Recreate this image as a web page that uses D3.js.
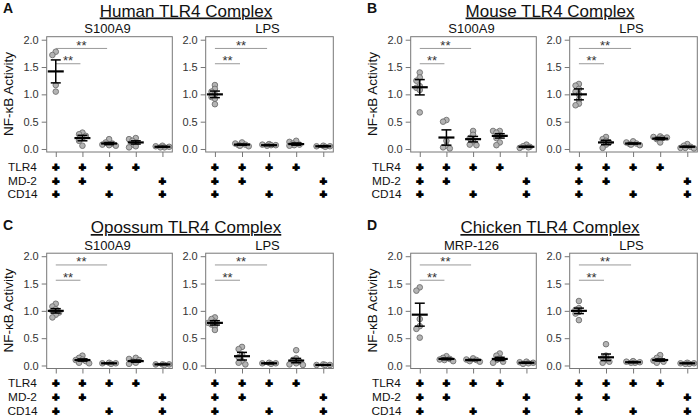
<!DOCTYPE html>
<html>
<head>
<meta charset="utf-8">
<script src="https://cdn.jsdelivr.net/npm/d3@7"></script>
<style>
html,body{margin:0;padding:0;background:#fff;}
svg{display:block;font-family:"Liberation Sans",Arial,sans-serif;}
</style>
</head>
<body>
<script>
// ---------- data ----------
const panelLetters = ["A", "B", "C", "D"];
const panelTitles = ["Human TLR4 Complex", "Mouse TLR4 Complex", "Opossum TLR4 Complex", "Chicken TLR4 Complex"];
const leftLigands = ["S100A9", "S100A9", "S100A9", "MRP-126"];
const rightLigand = "LPS";
const yLabel = "NF-\u03BAB Activity";
const categories = [1, 2, 3, 4, 5];
const rowLabels = ["TLR4", "MD-2", "CD14"];
const plusMatrix = [
  [1, 1, 1, 1, 0],
  [1, 1, 0, 0, 1],
  [1, 0, 1, 0, 1]
];
const yTicks = [0, 0.5, 1.0, 1.5, 2.0];
const sigPairs = [[1, 2], [1, 3]];
const sigHeights = [1.56, 1.84];
const sigText = "**";

// points per group (5 groups)
const humanS100A9 = [[1.78, 1.72, 1.17, 1.05], [0.30, 0.27, 0.24, 0.20, 0.15, 0.06], [0.18, 0.12, 0.10, 0.08, 0.07, 0.06], [0.20, 0.18, 0.15, 0.12, 0.08, 0.05, 0.03], [0.06, 0.05, 0.04, 0.03, 0.03]];
const humanLPS = [[1.17, 1.10, 1.05, 1.00, 0.95, 0.92, 0.82], [0.12, 0.10, 0.08, 0.07, 0.06, 0.05], [0.09, 0.08, 0.07, 0.07, 0.06], [0.15, 0.13, 0.10, 0.08, 0.07, 0.06], [0.06, 0.05, 0.05, 0.04]];
const mouseS100A9 = [[1.40, 1.31, 1.25, 1.15, 1.12, 1.08, 0.67], [0.53, 0.50, 0.15, 0.06, 0.03, 0.01], [0.33, 0.26, 0.20, 0.14, 0.08, 0.07], [0.33, 0.33, 0.30, 0.25, 0.20, 0.12, 0.07], [0.08, 0.05, 0.04, 0.03, 0.02]];
const mouseLPS = [[1.19, 1.16, 1.10, 1.05, 1.00, 0.90, 0.83, 0.80], [0.22, 0.18, 0.15, 0.12, 0.08, 0.02], [0.14, 0.12, 0.10, 0.09, 0.08, 0.07], [0.23, 0.22, 0.21, 0.20, 0.18, 0.12], [0.09, 0.06, 0.04, 0.02, 0.01, 0.02]];
const opossumS100A9 = [[1.13, 1.08, 1.03, 1.00, 0.97, 0.93, 0.88], [0.18, 0.14, 0.11, 0.10, 0.08, 0.05, 0.04], [0.05, 0.04, 0.04, 0.03], [0.14, 0.12, 0.10, 0.08, 0.05, 0.03], [0.02, 0.02, 0.01, 0.02]];
const opossumLPS = [[0.88, 0.85, 0.80, 0.78, 0.75, 0.72, 0.65], [0.34, 0.30, 0.20, 0.15, 0.08, 0.05, 0.02], [0.05, 0.04, 0.04, 0.03], [0.28, 0.13, 0.10, 0.07, 0.04, 0.02, 0.01], [0.02, 0.01, 0.01, 0.01]];
const chickenMRP126 = [[1.43, 1.37, 0.85, 0.72, 0.67, 0.51], [0.17, 0.14, 0.12, 0.11, 0.10, 0.08], [0.13, 0.11, 0.10, 0.08, 0.07], [0.22, 0.18, 0.13, 0.10, 0.07, 0.05], [0.07, 0.06, 0.05, 0.04, 0.03]];
const chickenLPS = [[1.18, 1.05, 1.02, 0.98, 0.95, 0.83], [0.39, 0.18, 0.13, 0.10, 0.07, 0.05], [0.08, 0.07, 0.06, 0.05, 0.05], [0.19, 0.14, 0.11, 0.09, 0.07, 0.05], [0.05, 0.04, 0.04, 0.03, 0.03]];

// group means and SEMs
const humanS100A9Mean = [1.42, 0.20, 0.10, 0.12, 0.04];
const humanS100A9Sem  = [0.21, 0.05, 0.02, 0.03, 0.01];
const humanLPSMean = [1.00, 0.08, 0.07, 0.09, 0.05];
const humanLPSSem  = [0.06, 0.01, 0.01, 0.02, 0.01];
const mouseS100A9Mean = [1.13, 0.21, 0.18, 0.24, 0.04];
const mouseS100A9Sem  = [0.14, 0.14, 0.05, 0.04, 0.01];
const mouseLPSMean = [1.00, 0.12, 0.10, 0.19, 0.04];
const mouseLPSSem  = [0.10, 0.04, 0.01, 0.02, 0.01];
const opossumS100A9Mean = [1.00, 0.10, 0.04, 0.08, 0.02];
const opossumS100A9Sem  = [0.04, 0.02, 0.005, 0.02, 0.005];
const opossumLPSMean = [0.78, 0.17, 0.04, 0.09, 0.01];
const opossumLPSSem  = [0.04, 0.07, 0.01, 0.04, 0.003];
const chickenMRP126Mean = [0.93, 0.12, 0.10, 0.12, 0.05];
const chickenMRP126Sem  = [0.21, 0.015, 0.01, 0.03, 0.01];
const chickenLPSMean = [1.00, 0.15, 0.06, 0.10, 0.04];
const chickenLPSSem  = [0.05, 0.06, 0.01, 0.02, 0.005];

const panelData = [
  [[humanS100A9, humanS100A9Mean, humanS100A9Sem], [humanLPS, humanLPSMean, humanLPSSem]],
  [[mouseS100A9, mouseS100A9Mean, mouseS100A9Sem], [mouseLPS, mouseLPSMean, mouseLPSSem]],
  [[opossumS100A9, opossumS100A9Mean, opossumS100A9Sem], [opossumLPS, opossumLPSMean, opossumLPSSem]],
  [[chickenMRP126, chickenMRP126Mean, chickenMRP126Sem], [chickenLPS, chickenLPSMean, chickenLPSSem]]
];

// ---------- layout ----------
const W = 700, H = 417;
const panelX = [0, 364, 0, 364];
const panelY = [0, 0, 216.5, 216.5];
const subRanges = [[46.7, 172.3], [205.7, 333.3]];
const boxTop = 36.7, boxBottom = 152;
const rowY = [166.7, 180.4, 194.1];
const R = 2.8;
const axisCol = "#777", textCol = "#333";

const svg = d3.select("body").append("svg").attr("width", W).attr("height", H);

function swarm(vals, y, cx) {
  const placed = [];
  const sorted = vals.map(v => ({v, py: y(v)})).sort((a, b) => a.py - b.py);
  sorted.forEach(p => {
    const offs = [0, -1, 1, -2, 2];
    for (const k of offs) {
      const px = cx + k * R * 1.2;
      const ok = placed.every(q => Math.hypot(q.px - px, q.py - p.py) >= R * 1.3);
      if (ok) { p.px = px; break; }
    }
    if (p.px === undefined) p.px = cx + (placed.length % 2 ? 2 : -2);
    placed.push(p);
  });
  return placed;
}

panelLetters.forEach((letter, p) => {
  const g = svg.append("g").attr("transform", `translate(${panelX[p]},${panelY[p]})`);
  g.append("text").attr("x", 3).attr("y", 13).attr("font-size", 14).attr("font-weight", "bold")
    .attr("fill", "#111").text(letter);
  g.append("text").attr("x", 186).attr("y", 16.5).attr("font-size", 17).attr("text-anchor", "middle")
    .attr("fill", "#111").attr("text-decoration", "underline").text(panelTitles[p]);
  g.append("text").attr("transform", "translate(13,94) rotate(-90)").attr("text-anchor", "middle")
    .attr("font-size", 13.5).attr("fill", "#111").text(yLabel);

  rowLabels.forEach((lab, r) => {
    g.append("text").attr("x", 22.5).attr("y", rowY[r]).attr("dy", "0.36em").attr("text-anchor", "middle")
      .attr("font-size", 11.8).attr("fill", "#111").text(lab);
  });

  [0, 1].forEach(s => {
    const [pts, means, sems] = panelData[p][s];
    const x = d3.scaleLinear().domain([0.66, 5.37]).range(subRanges[s]);
    const y = d3.scaleLinear().domain([-0.055, 2.055]).range([boxBottom, boxTop]);
    const sg = g.append("g");

    sg.append("text").attr("x", (subRanges[s][0] + subRanges[s][1]) / 2 - 2).attr("y", 33)
      .attr("text-anchor", "middle").attr("font-size", 13).attr("fill", "#111")
      .text(s === 0 ? leftLigands[p] : rightLigand);

    sg.append("rect").attr("x", subRanges[s][0]).attr("y", boxTop)
      .attr("width", subRanges[s][1] - subRanges[s][0]).attr("height", boxBottom - boxTop)
      .attr("fill", "none").attr("stroke", axisCol).attr("stroke-width", 1);

    const ya = sg.append("g").attr("transform", `translate(${subRanges[s][0]},0)`)
      .call(d3.axisLeft(y).tickValues(yTicks).tickFormat(d3.format(".1f")).tickSize(5).tickPadding(3));
    ya.select(".domain").remove();
    ya.selectAll("line").attr("stroke", axisCol);
    ya.selectAll("text").attr("font-size", 11).attr("fill", textCol).attr("font-family", "'Liberation Sans',Arial,sans-serif");

    const xa = sg.append("g").attr("transform", `translate(0,${boxBottom})`)
      .call(d3.axisBottom(x).tickValues(categories).tickFormat("").tickSize(5));
    xa.select(".domain").remove();
    xa.selectAll("line").attr("stroke", axisCol);

    // significance
    sigPairs.forEach((pair, i) => {
      const x1 = x(pair[0]), x2 = x(pair[1]) - 2, yy = y(sigHeights[i]);
      sg.append("line").attr("x1", x1).attr("x2", x2).attr("y1", yy).attr("y2", yy)
        .attr("stroke", "#999").attr("stroke-width", 1);
      sg.append("text").attr("x", (x1 + x2) / 2).attr("y", yy + 1.5).attr("text-anchor", "middle")
        .attr("font-size", 13).attr("fill", textCol).text(sigText);
    });

    // points
    categories.forEach((c, ci) => {
      const cx = x(c);
      const placed = swarm(pts[ci], y, cx);
      sg.selectAll(null).data(placed).enter().append("circle")
        .attr("cx", d => d.px).attr("cy", d => d.py).attr("r", R)
        .attr("fill", "#b4b4b4").attr("stroke", "#707070").attr("stroke-width", 0.9);
      const m = means[ci], se = sems[ci];
      sg.append("line").attr("x1", cx).attr("x2", cx).attr("y1", y(m + se)).attr("y2", y(m - se))
        .attr("stroke", "#000").attr("stroke-width", 1.5);
      [m + se, m - se].forEach(v => {
        sg.append("line").attr("x1", cx - 5).attr("x2", cx + 5).attr("y1", y(v)).attr("y2", y(v))
          .attr("stroke", "#000").attr("stroke-width", 1.5);
      });
      sg.append("line").attr("x1", cx - 8).attr("x2", cx + 8).attr("y1", y(m)).attr("y2", y(m))
        .attr("stroke", "#000").attr("stroke-width", 2.2);
    });

    // plus rows
    rowLabels.forEach((lab, r) => {
      categories.forEach((c, ci) => {
        if (plusMatrix[r][ci]) {
          sg.append("text").attr("x", x(c)).attr("y", rowY[r]).attr("dy", "0.36em")
            .attr("text-anchor", "middle").attr("font-size", 11.5).attr("font-weight", "bold")
            .attr("fill", "#000").attr("stroke", "#000").attr("stroke-width", 1.6).text("+");
        }
      });
    });
  });
});
</script>
</body>
</html>
